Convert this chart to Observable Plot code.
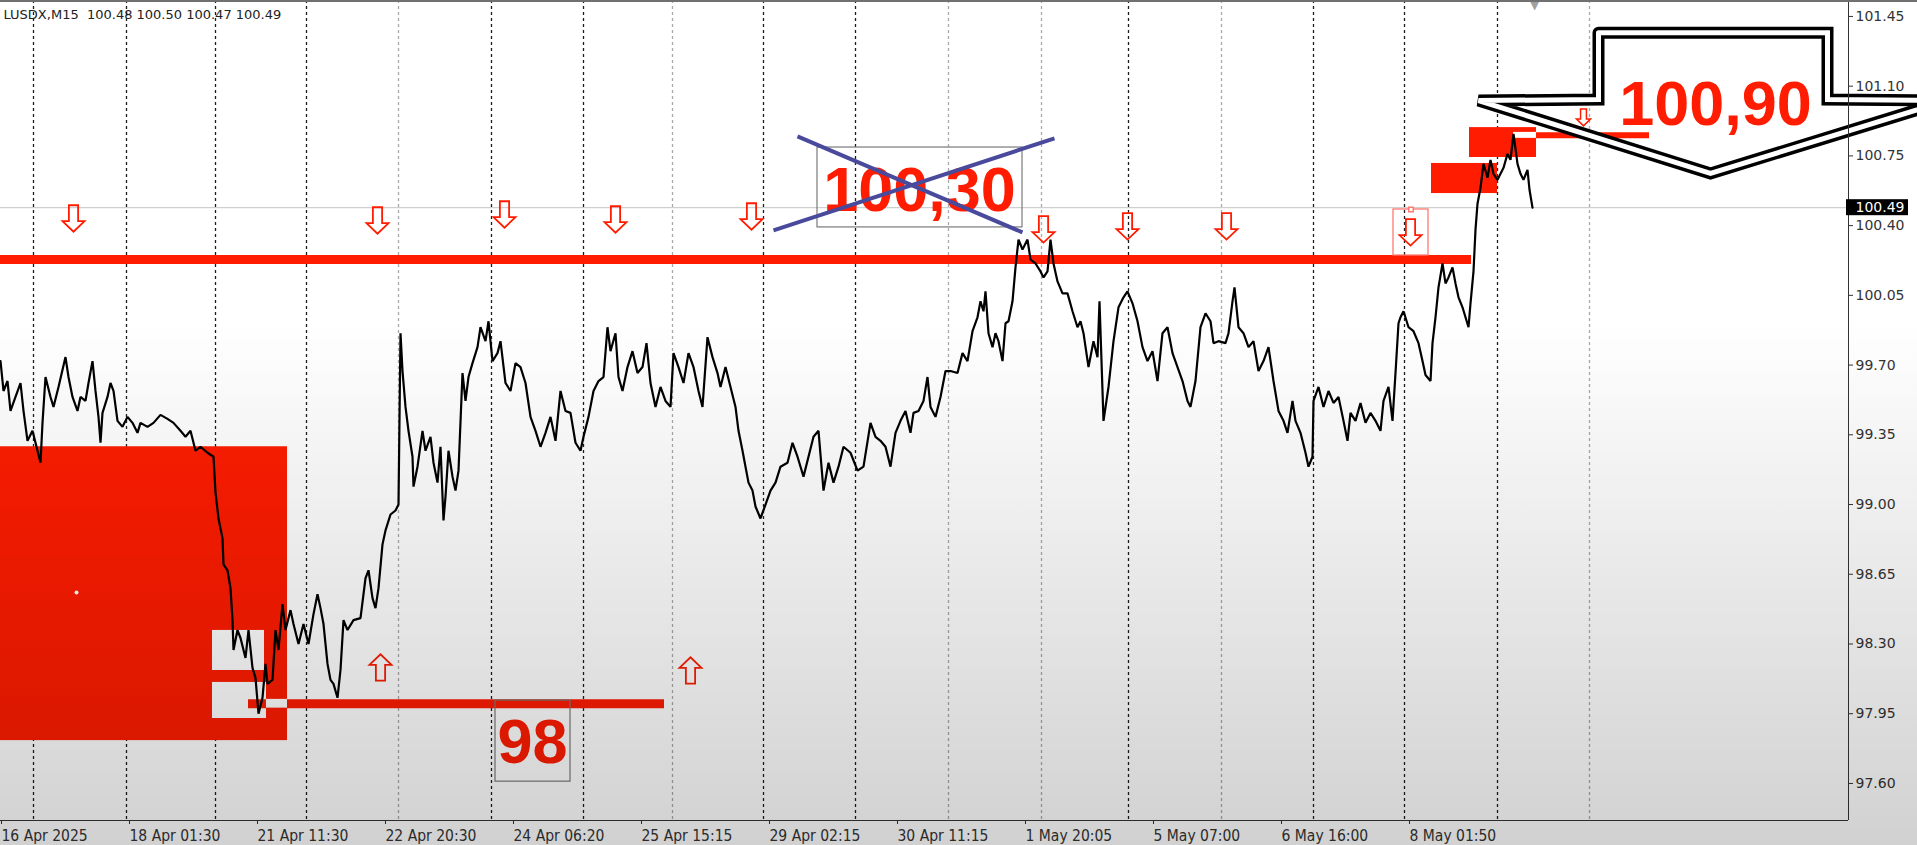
<!DOCTYPE html>
<html><head><meta charset="utf-8">
<script src="https://cdn.jsdelivr.net/npm/d3@7"></script>
<script src="https://cdn.jsdelivr.net/npm/@observablehq/plot@0.6"></script>
<style>
html,body{margin:0;padding:0;background:#fff;width:1917px;height:845px;overflow:hidden;}
#wrap{position:relative;width:1917px;height:845px;}
#shade{position:absolute;left:0;top:0;width:1917px;height:845px;pointer-events:none;
 background:linear-gradient(to bottom, rgba(0,0,0,0) 0%, rgba(0,0,0,0) 38%, rgba(0,0,0,0.18) 100%);}
#topbar{position:absolute;left:0;top:0;width:1917px;height:2px;background:#707070;}
</style></head>
<body><div id="wrap"><div id="chart"></div><div id="shade"></div><div id="topbar"></div></div>
<script>
// ---------- DATA ----------
const chartTitle = "LUSDX,M15  100.48 100.50 100.47 100.49";

// price series: bar index (M15 bars from the left edge) and close
const priceBars = [
0,3,7,10,15,20,23,27,32,36,40,42,45,50,53,58,65,68,72,77,80,85,88,92,95,98,100,102,107,110,
113,117,122,127,132,137,140,147,153,160,167,173,180,185,190,195,200,207,213,215,218,222,223,227,230,232,233,237,240,245,
248,252,255,258,262,265,267,272,275,278,282,285,290,293,298,303,308,313,317,320,323,327,330,333,337,340,343,347,353,360,
365,368,372,375,378,382,385,390,395,398,
400,402,405,408,412,413,417,422,425,430,433,437,440,443,445,448,452,455,458,462,465,468,472,477,480,485,488,492,497,500,
505,510,515,520,525,530,535,540,545,550,555,560,565,570,575,580,583,588,593,598,603,607,610,615,618,622,627,632,637,642,
646,650,655,660,665,670,673,678,683,688,693,698,702,707,712,717,720,725,730,735,738,742,745,748,752,755,760,765,770,775,
780,787,792,797,803,808,813,818,823,828,833,838,843,850,857,863,870,875,880,
885,890,895,900,905,910,913,918,923,927,930,935,940,945,950,957,962,967,972,977,980,983,985,988,992,995,998,1002,1005,1008,
1012,1015,1018,1022,1027,1030,1035,1040,1043,1047,1050,1053,1057,1062,1067,1072,1077,1080,1083,1088,
1093,1097,1099,1103,1108,1113,1118,1123,1127,1132,1137,1142,1147,1152,1157,1162,1167,1172,1177,1182,
1187,1190,1195,1200,1205,1210,1213,1218,1225,1228,1232,1234,1238,1243,1248,1253,1258,1263,1268,1273,
1278,1283,1287,1292,1295,1300,1305,1308,1312,1313,1318,1323,1328,1333,1338,1343,1347,1350,1355,1360,
1365,1370,1375,1380,1383,1388,1392,1395,1398,
1400,1403,1408,1413,1418,1422,1425,1430,1432,1435,1438,1442,1445,1448,1452,1455,1458,1462,1465,1468,
1470,1473,1475,1477,1480,1483,1487,1490,1493,1497,1500,1503,1507,1510,1513,1517,1520,1523,1527,1529,1532
];
const priceClose = [
99.72,99.57,99.62,99.47,99.54,99.61,99.47,99.32,99.37,99.29,99.21,99.41,99.64,99.54,99.49,99.59,99.74,99.64,99.54,99.47,
99.54,99.52,99.61,99.72,99.57,99.44,99.31,99.46,99.54,99.61,99.57,99.42,99.39,99.44,99.41,99.36,99.41,99.39,99.41,99.45,
99.43,99.41,99.37,99.34,99.37,99.27,99.29,99.26,99.24,99.06,98.93,98.83,98.70,98.67,98.58,98.42,98.27,98.37,98.33,98.23,
98.37,98.18,98.13,97.95,98.03,98.20,98.10,98.12,98.37,98.27,98.50,98.37,98.47,98.40,98.30,98.40,98.30,98.45,98.55,98.48,
98.40,98.20,98.12,98.10,98.03,98.17,98.42,98.37,98.42,98.43,98.63,98.67,98.53,98.48,98.58,98.80,98.87,98.95,98.97,99.00,
99.86,99.67,99.49,99.37,99.24,99.09,99.19,99.37,99.27,99.34,99.21,99.11,99.29,98.92,99.04,99.27,99.14,99.07,99.17,99.66,
99.52,99.64,99.71,99.79,99.89,99.82,99.92,99.72,99.76,99.82,99.61,99.57,99.71,99.69,99.61,99.44,99.37,99.29,99.36,99.44,
99.32,99.57,99.47,99.46,99.31,99.27,99.34,99.44,99.57,99.62,99.64,99.89,99.77,99.86,99.64,99.57,99.69,99.77,99.66,99.69,
99.81,99.61,99.49,99.59,99.52,99.49,99.76,99.69,99.61,99.76,99.69,99.57,99.49,99.84,99.74,99.66,99.59,99.69,99.59,99.49,
99.37,99.27,99.19,99.11,99.07,98.99,98.93,99.00,99.07,99.11,99.19,99.21,99.31,99.24,99.14,99.24,99.34,99.37,99.07,99.21,
99.11,99.19,99.29,99.26,99.17,99.19,99.41,99.34,99.32,
99.29,99.19,99.36,99.42,99.47,99.36,99.46,99.47,99.52,99.64,99.49,99.44,99.54,99.67,99.67,99.66,99.76,99.72,99.87,99.94,
100.02,99.97,100.07,99.86,99.79,99.86,99.82,99.72,99.91,99.92,100.02,100.19,100.33,100.28,100.33,100.23,100.21,100.17,100.14,100.17,
100.33,100.21,100.12,100.06,100.06,99.97,99.89,99.92,99.86,99.69,99.82,99.74,100.02,99.42,99.59,99.82,99.99,100.04,100.07,100.01,
99.92,99.79,99.72,99.77,99.62,99.86,99.89,99.76,99.69,99.62,99.52,99.49,99.62,99.89,99.96,99.92,99.81,99.82,99.81,99.86,
100.02,100.09,99.89,99.86,99.79,99.82,99.67,99.72,99.79,99.62,99.47,99.42,99.36,99.52,99.42,99.36,99.26,99.19,99.24,99.52,
99.59,99.49,99.57,99.51,99.54,99.42,99.32,99.46,99.42,99.51,99.41,99.46,99.42,99.37,99.52,99.59,99.42,99.66,99.91,
99.94,99.97,99.89,99.87,99.81,99.72,99.65,99.62,99.81,99.94,100.09,100.21,100.11,100.14,100.19,100.11,100.04,99.99,99.94,99.89,
100.01,100.17,100.38,100.51,100.59,100.71,100.64,100.73,100.66,100.63,100.66,100.69,100.76,100.73,100.86,100.71,100.66,100.63,100.68,100.58,100.49
];
const lastClose = 100.49;

// time axis
const xTickBars = [0,128,256,384,512,640,768,896,1024,1152,1280,1408];
const xTickLabels = ["16 Apr 2025","18 Apr 01:30","21 Apr 11:30","22 Apr 20:30","24 Apr 06:20","25 Apr 15:15",
  "29 Apr 02:15","30 Apr 11:15","1 May 20:05","5 May 07:00","6 May 16:00","8 May 01:50"];
// price axis
const yTicks = [97.60,97.95,98.30,98.65,99.00,99.35,99.70,100.05,100.40,100.75,101.10,101.45];

// day separators (bar index) and their tone
const separatorBars = [33,126,215,306,398,491,583,672,763,855,948,1041,1128,1221,1313,1404,1497,1589];
const separatorTone = ["dark","dark","dark","dark","light","dark","dark","light","dark","dark","light","light","dark","light","dark","dark","dark","light"];

// drawn objects (bars / prices)
const redZones = [
  {from: 0, to: 287, low: 97.815, high: 99.29},
  {from: 1431, to: 1497, low: 100.561, high: 100.712},
  {from: 1469, to: 1536, low: 100.742, high: 100.892}
];
const whiteBoxes = [
  {from: 212, to: 264, low: 98.167, high: 98.368},
  {from: 212, to: 266, low: 97.926, high: 98.107}
];
const levelLines = [
  {from: 0, to: 1471, level: 100.23, thick: 9},
  {from: 248, to: 664, level: 98.00, thick: 9},
  {from: 1536, to: 1649, level: 100.853, thick: 6}
];
const xorNotches = [
  {from: 266, to: 287, low: 97.978, high: 98.022},
  {from: 1513, to: 1536, low: 100.838, high: 100.868}
];
const downArrows = [
  {bar: 73, price: 100.436}, {bar: 377, price: 100.426}, {bar: 504, price: 100.456},
  {bar: 615, price: 100.431}, {bar: 751, price: 100.446}, {bar: 1043, price: 100.381},
  {bar: 1127, price: 100.396}, {bar: 1226, price: 100.396}, {bar: 1410, price: 100.366}
];
const smallDownArrows = [{bar: 1583, price: 100.943}];
const upArrows = [{bar: 380, price: 98.182}, {bar: 690, price: 98.167}];
const signalBox = [{from: 1393, to: 1428, low: 100.250, high: 100.481}];
const labelBoxes = [
  {from: 817, to: 1022, low: 100.391, high: 100.792},
  {from: 495, to: 570, low: 97.609, high: 98.016}
];
const bigLabels = [
  {bar: 919, price: 100.577, text: "100,30"},
  {bar: 532, price: 97.805, text: "98"},
  {bar: 1715, price: 101.008, text: "100,90"}
];
const crossLines = [
  {b1: 797, p1: 100.848, b2: 1022, p2: 100.366},
  {b1: 773, p1: 100.376, b2: 1054, p2: 100.838}
];
const bigArrowBars   = [1598, 1827, 1827, 1947, 1710, 1478, 1598, 1598];
const bigArrowPrices = [101.368, 101.368, 101.033, 101.028, 100.662, 101.028, 101.033, 101.368];
const markerDot = [{bar: 76, price: 98.558}];

// ---------- BUILD ----------
const price = priceBars.map((b, i) => ({bar: b, close: priceClose[i]}));
const seps = separatorBars.map((b, i) => ({bar: b, tone: separatorTone[i]}));
const bigArrow = bigArrowBars.map((b, i) => ({bar: b, price: bigArrowPrices[i]}));
const labelOf = new Map(xTickBars.map((b, i) => [b, xTickLabels[i]]));
const xMax = 1848;
const RED = "#ff1c00";

const arrowSym = (dir) => ({
  draw(ctx, size) {
    const w = Math.sqrt(size / Math.PI), h = 1.2 * w, s = dir;
    ctx.moveTo(-0.42 * w, -h * s); ctx.lineTo(0.42 * w, -h * s);
    ctx.lineTo(0.42 * w, 0.2 * h * s); ctx.lineTo(w, 0.2 * h * s);
    ctx.lineTo(0, h * s); ctx.lineTo(-w, 0.2 * h * s);
    ctx.lineTo(-0.42 * w, 0.2 * h * s); ctx.closePath();
  }
});

const chart = Plot.plot({
  width: 1917, height: 845,
  marginLeft: 0, marginRight: 69, marginTop: 0, marginBottom: 25,
  x: {domain: [0, xMax], axis: null},
  y: {domain: [97.414, 101.530], axis: null},
  style: {background: "transparent", fontFamily: "DejaVu Sans", overflow: "visible"},
  marks: [
    Plot.ruleX(seps.filter(d => d.tone === "light"), {x: "bar", stroke: "#a9a9a9", strokeWidth: 1.3, strokeDasharray: "3,3"}),
    Plot.ruleX(seps.filter(d => d.tone === "dark"), {x: "bar", stroke: "#1c1c1c", strokeWidth: 1.3, strokeDasharray: "3,3"}),
    Plot.ruleY([lastClose], {stroke: "#c4c4c4", strokeWidth: 1}),
    Plot.rect(redZones, {x1: "from", x2: "to", y1: "low", y2: "high", fill: RED}),
    Plot.rect(whiteBoxes, {x1: "from", x2: "to", y1: "low", y2: "high", fill: "#ffffff"}),
    Plot.ruleY(levelLines, {y: "level", x1: "from", x2: "to", stroke: RED, strokeWidth: d => d.thick}),
    Plot.rect(xorNotches, {x1: "from", x2: "to", y1: "low", y2: "high", fill: "#ffffff"}),
    Plot.rect(signalBox, {x1: "from", x2: "to", y1: "low", y2: "high", fill: "none", stroke: "#ff7a70", strokeWidth: 1.3}),
    Plot.dot(signalBox, {x: d => (d.from + d.to) / 2, y: "high", symbol: "square", r: 2.5, fill: "#fff", stroke: "#ff7a70"}),
    Plot.dot(markerDot, {x: "bar", y: "price", r: 2, fill: "#fff"}),
    Plot.rect(labelBoxes, {x1: "from", x2: "to", y1: "low", y2: "high", fill: "none", stroke: "#7a7a7a", strokeWidth: 1.2}),
    Plot.line(price, {x: "bar", y: "close", stroke: "#000", strokeWidth: 2.2, strokeLinejoin: "miter"}),
    Plot.dot(downArrows, {x: "bar", y: "price", symbol: arrowSym(1), r: 11, fill: "none", stroke: RED, strokeWidth: 1.8}),
    Plot.dot(smallDownArrows, {x: "bar", y: "price", symbol: arrowSym(1), r: 7, fill: "none", stroke: RED, strokeWidth: 1.5}),
    Plot.dot(upArrows, {x: "bar", y: "price", symbol: arrowSym(-1), r: 11, fill: "none", stroke: RED, strokeWidth: 1.8}),
    Plot.line(bigArrow, {x: "bar", y: "price", stroke: "#000", strokeWidth: 12, strokeLinejoin: "miter", strokeMiterlimit: 4}),
    Plot.line(bigArrow, {x: "bar", y: "price", stroke: "#fff", strokeWidth: 5, strokeLinejoin: "miter", strokeMiterlimit: 4}),
    Plot.text(bigLabels, {x: "bar", y: "price", text: "text", fill: RED, fontSize: 63, fontWeight: "bold", fontFamily: "Liberation Sans, Arial, sans-serif"}),
    Plot.link(crossLines, {x1: "b1", y1: "p1", x2: "b2", y2: "p2", stroke: "#4a4a9c", strokeWidth: 4}),
    Plot.text([chartTitle], {frameAnchor: "top-left", text: d => d, dx: 3, dy: 9, fontSize: 13, fill: "#222"}),
    Plot.text([priceBars[priceBars.length - 1]], {x: d => d + 2, frameAnchor: "top", text: () => "▼", lineAnchor: "top", dy: 0, fontSize: 12, fill: "#a0a0a0"}),
    Plot.ruleX([xMax], {stroke: "#333", strokeWidth: 1}),
    Plot.ruleY([97.414], {x1: 0, x2: xMax, stroke: "#333", strokeWidth: 1}),
    Plot.axisY(yTicks, {anchor: "right", tickSize: 4, tickPadding: 3, tickFormat: d3.format(".2f"), fontSize: 14, fill: "#333", stroke: "#333", label: null}),
    Plot.rect([lastClose], {x1: xMax, x2: xMax, y1: d => d, y2: d => d, insetLeft: -2, insetRight: -60, insetTop: -8, insetBottom: -8, fill: "#000"}),
    Plot.text([lastClose], {x: xMax, y: d => d, text: d3.format(".2f"), textAnchor: "start", dx: 7, fill: "#fff", fontSize: 14}),
    Plot.axisX(xTickBars, {anchor: "bottom", tickSize: 4, tickPadding: 5, tickFormat: d => labelOf.get(d), textAnchor: "start", dx: 1, fontSize: 15.5, fontFamily: "DejaVu Sans Condensed, DejaVu Sans", fill: "#333", stroke: "#333", label: null})
  ]
});
document.getElementById("chart").appendChild(chart);
</script>
</body></html>
